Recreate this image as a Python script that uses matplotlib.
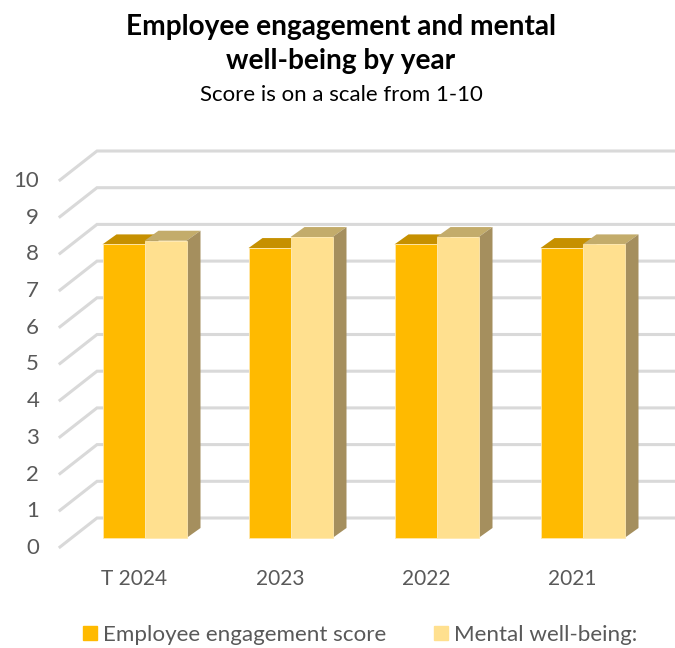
import matplotlib
matplotlib.use("Agg")
import matplotlib.pyplot as plt
from matplotlib.patches import Patch
from matplotlib.transforms import ScaledTranslation

plt.rcParams["font.family"] = ["Lato", "DejaVu Sans"]

# --- Data ---
years = ["T 2024", "2023", "2022", "2021"]
engagement = [8.0, 7.9, 8.0, 7.9]
wellbeing = [8.1, 8.2, 8.2, 8.0]
score_ticks = list(range(0, 11))

# --- Styles ---
W, H, DPI = 675, 648, 100
GROUP_PX = 146
UNIT_PX = 36.7
BAR_W = 42 / GROUP_PX
DEPTH_X, DEPTH_Y = 14 / GROUP_PX, 10 / UNIT_PX
WALL_X, WALL_Y = 37 / GROUP_PX, 29 / UNIT_PX
FRONT_DROP = 9 / UNIT_PX
TEXT = "#595959"
GRID = "#d9d9d9"
DARK = {"front": "#FFBA00", "top": "#C69000", "side": "#A58F5E"}
LIGHT = {"front": "#FFE08F", "top": "#C3AC6B", "side": "#A58F5E"}

fig = plt.figure(figsize=(W / DPI, H / DPI), dpi=DPI)
ax = fig.add_axes([60 / W, (H - 538) / H, 615 / W, 367 / H])
ax.set_xlim(-84.5 / GROUP_PX, 530.5 / GROUP_PX)
ax.set_ylim(0, 10)

# --- Back wall and side wall gridlines ---
x0, x1 = ax.get_xlim()
for v in score_ticks:
    back = v - FRONT_DROP + WALL_Y
    ax.plot([x0, x0 + WALL_X, x1], [v - FRONT_DROP, back, back],
            color=GRID, lw=2.2, solid_joinstyle="miter", clip_on=False, zorder=1)


def box(x, value, col):
    left, right = x, x + BAR_W
    ax.fill([left, right, right + DEPTH_X, left + DEPTH_X],
            [value, value, value + DEPTH_Y, value + DEPTH_Y],
            color=col["top"], lw=0, zorder=3, clip_on=False)
    ax.fill([right, right + DEPTH_X, right + DEPTH_X, right],
            [0, DEPTH_Y, value + DEPTH_Y, value],
            color=col["side"], lw=0, zorder=3, clip_on=False)
    ax.bar(x, value, BAR_W, align="edge", color=col["front"], edgecolor="#FFE9B0",
           lw=0.6, zorder=3, clip_on=False)


# --- 3D bars, painted left to right ---
for i in range(len(years)):
    box(i - BAR_W, engagement[i], DARK)
    box(i, wellbeing[i], LIGHT)

# --- Axes text ---
for s in ax.spines.values():
    s.set_visible(False)
ax.set_xticks(range(len(years)), years)
ax.set_yticks(score_ticks)
ax.tick_params(axis="both", length=0, labelcolor=TEXT)
ax.tick_params(axis="y", pad=15, labelsize=16)
ax.tick_params(axis="x", pad=22, labelsize=15)
for lab in ax.get_yticklabels():
    lab.set_transform(lab.get_transform() + ScaledTranslation(0, -8 / DPI, fig.dpi_scale_trans))
for lab in ax.get_xticklabels():
    lab.set_transform(lab.get_transform() + ScaledTranslation(-10 / DPI, 0, fig.dpi_scale_trans))

# --- Titles ---
fig.text(341 / W, 1 - 27 / H, "Employee engagement and mental", ha="center", va="center",
         fontsize=20.2, fontweight="bold", color="black")
fig.text(341 / W, 1 - 61 / H, "well-being by year", ha="center", va="center",
         fontsize=20.2, fontweight="bold", color="black")
fig.text(341 / W, 1 - 95 / H, "Score is on a scale from 1-10", ha="center", va="center",
         fontsize=16, color="black")

# --- Legend ---
handles = [Patch(color=DARK["front"]), Patch(color=LIGHT["front"])]
fig.legend(handles, ["Employee engagement score", "Mental well-being:"],
           loc="center", bbox_to_anchor=(360 / W, 1 - 635 / H), ncol=2, frameon=False,
           fontsize=16.1, labelcolor=TEXT, handlelength=0.63, handleheight=0.63,
           handletextpad=0.27, columnspacing=2.15, borderpad=0)

fig.savefig("out.png", dpi=DPI)
